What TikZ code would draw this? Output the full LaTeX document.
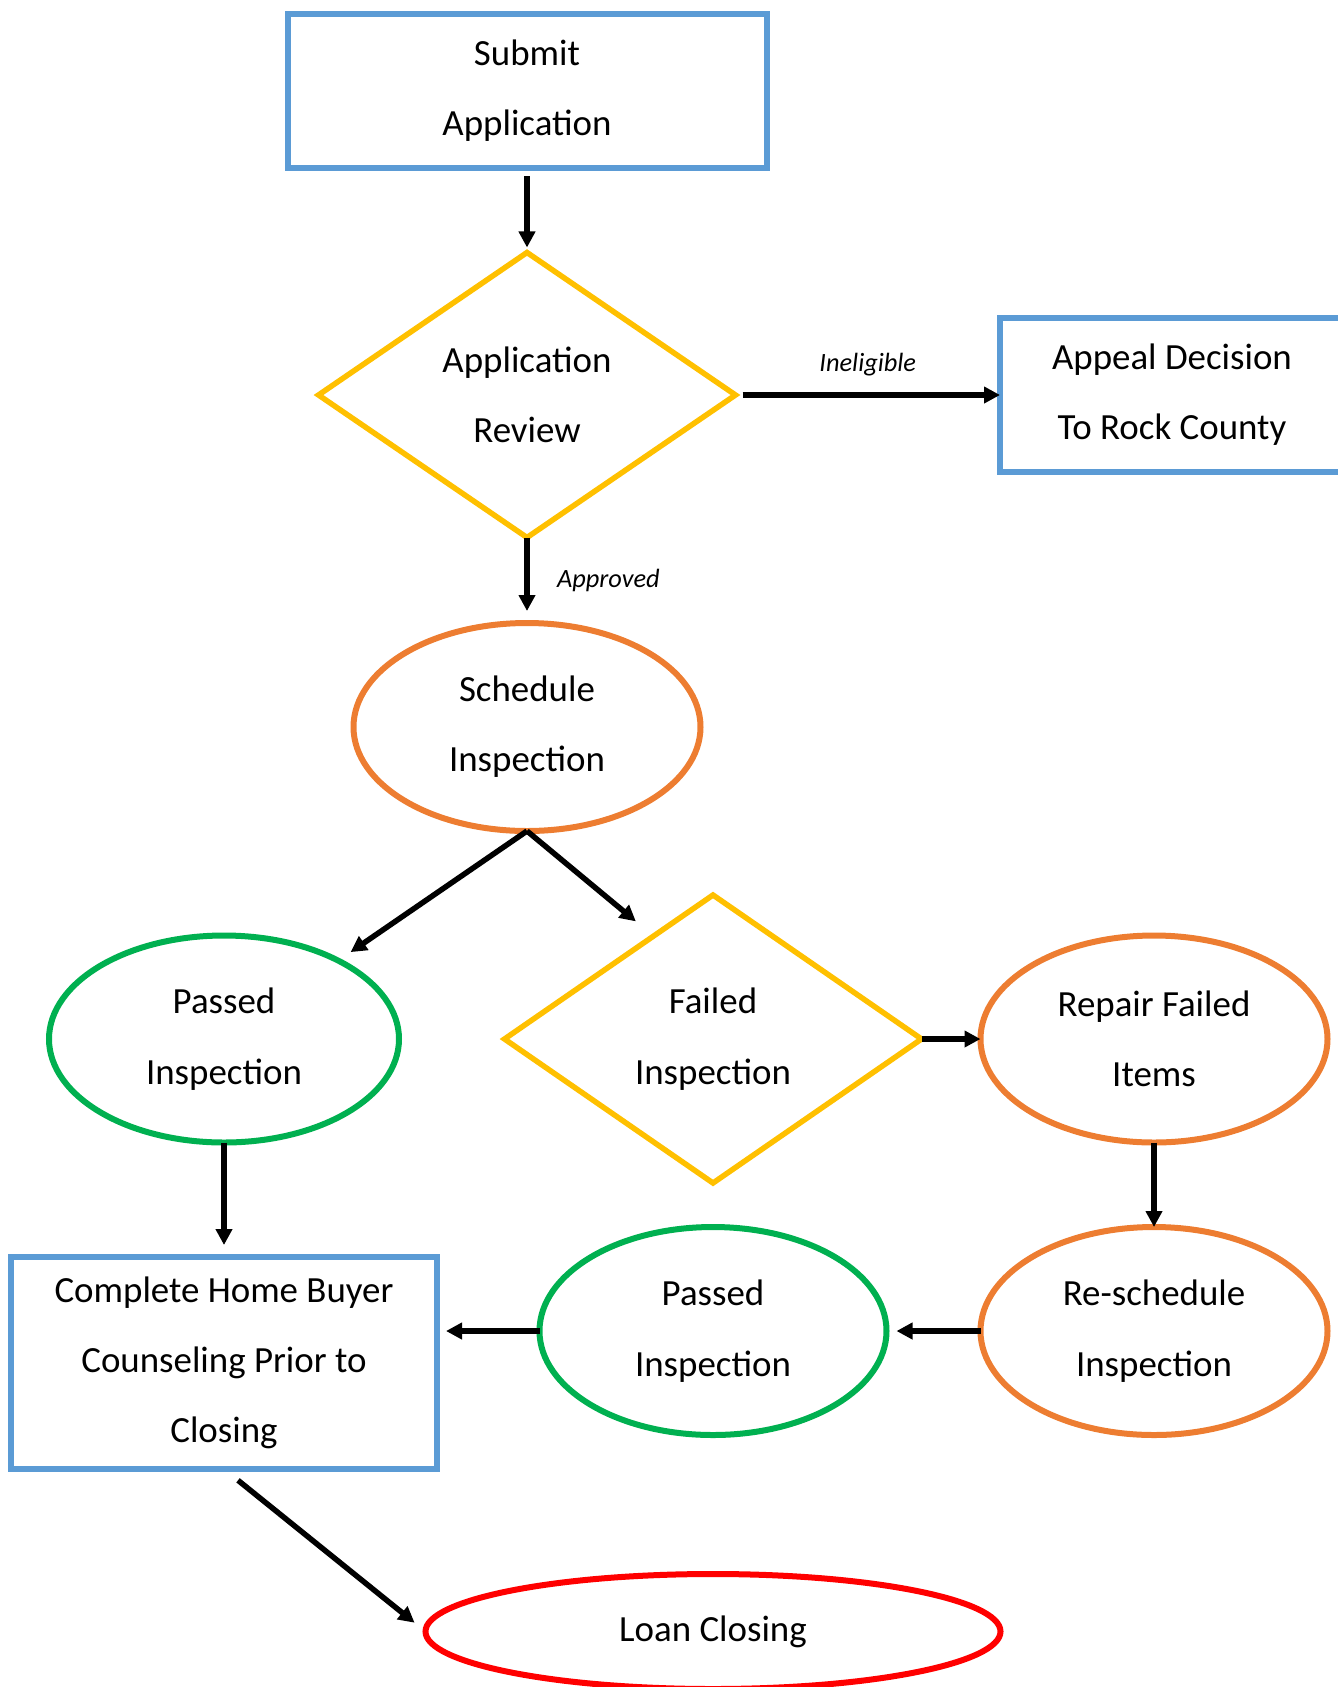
\documentclass[tikz,border=0pt]{standalone}
\usepackage{fontspec}
\setmainfont{Carlito}
\usepackage{tikz}
\usetikzlibrary{positioning,shapes.geometric,arrows.meta}
\definecolor{flowblue}{RGB}{91,155,213}
\definecolor{flowyellow}{RGB}{255,192,0}
\definecolor{floworange}{RGB}{237,125,49}
\definecolor{flowgreen}{RGB}{0,176,80}
\definecolor{flowred}{RGB}{255,0,0}

\begin{document}
\begin{tikzpicture}[every node/.style={align=center, outer sep=0pt, font=\fontsize{21}{40}\selectfont},
    box/.style={draw=flowblue, line width=0.12cm, rectangle, inner sep=0pt},
    decide/.style={draw=flowyellow, line width=0.11cm, diamond, inner sep=0pt},
    oval/.style={ellipse, line width=0.12cm, inner sep=0pt},
    arr/.style={-{Triangle[length=0.32cm,width=0.32cm]}, line width=0.11cm},
    lbl/.style={font=\fontsize{15}{18}\selectfont\itshape, inner sep=0pt}]
        \useasboundingbox (0,0) rectangle (26.76,-33.74);
        \node[box, minimum width=9.58cm, minimum height=3.08cm] (submit) at (10.54,-1.82) {Submit\\Application};
        \node[decide, minimum width=8.34cm, minimum height=5.70cm, below=1.69cm of submit] (review) {Application\\Review};
        \node[box, minimum width=6.88cm, minimum height=3.08cm, right=5.29cm of review] (appeal) {Appeal Decision\\To Rock County};
        \node[oval, draw=floworange, minimum width=6.94cm, minimum height=4.16cm, below=1.71cm of review] (sched) {Schedule\\Inspection};
        \node[oval, draw=flowgreen, minimum width=7.0cm, minimum height=4.14cm, below=2.09cm of sched, xshift=-6.06cm] (passA) {Passed\\Inspection};
        \node[decide, minimum width=8.34cm, minimum height=5.76cm, right=2.11cm of passA] (failed) {Failed\\Inspection};
        \node[oval, draw=floworange, minimum width=6.94cm, minimum height=4.14cm, right=1.18cm of failed] (repair) {Repair Failed\\Items};
        \node[oval, draw=floworange, minimum width=6.94cm, minimum height=4.16cm, below=1.69cm of repair] (resched) {Re-schedule\\Inspection};
        \node[oval, draw=flowgreen, minimum width=6.94cm, minimum height=4.16cm, left=1.88cm of resched] (passB) {Passed\\Inspection};
        \node[box, minimum width=8.52cm, minimum height=4.24cm, below=2.29cm of passA] (counsel) {Complete Home Buyer\\Counseling Prior to\\Closing};
        \node[oval, draw=flowred, minimum width=11.5cm, minimum height=2.3cm, below=2.78cm of passB] (loan) {Loan Closing};
        \draw[arr, shorten <=0.16cm, shorten >=0.1cm] (submit) -- (review);
        \draw[arr, shorten <=0.14cm] (review) -- node[lbl, above=0.38cm] {Ineligible} (appeal);
        \draw[arr, shorten >=0.24cm] (review) -- node[lbl, right=0.6cm] {Approved} (sched);
        \draw[arr, shorten >=0.3cm] (sched.south) -- (passA);
        \draw[arr, shorten >=0.46cm] (sched.south) -- (failed.120);
        \draw[arr] (failed) -- (repair);
        \draw[arr] (repair) -- (resched);
        \draw[arr, shorten >=0.2cm] (resched) -- (passB);
        \draw[arr, shorten >=0.18cm] (passB.west) -- (passB.west -| counsel.east);
        \draw[arr, shorten >=0.24cm] (passA) -- (counsel);
        \draw[arr, shorten <=0.36cm, shorten >=0.28cm] (counsel.south) -- (loan.west);
      \end{tikzpicture}
\end{document}
